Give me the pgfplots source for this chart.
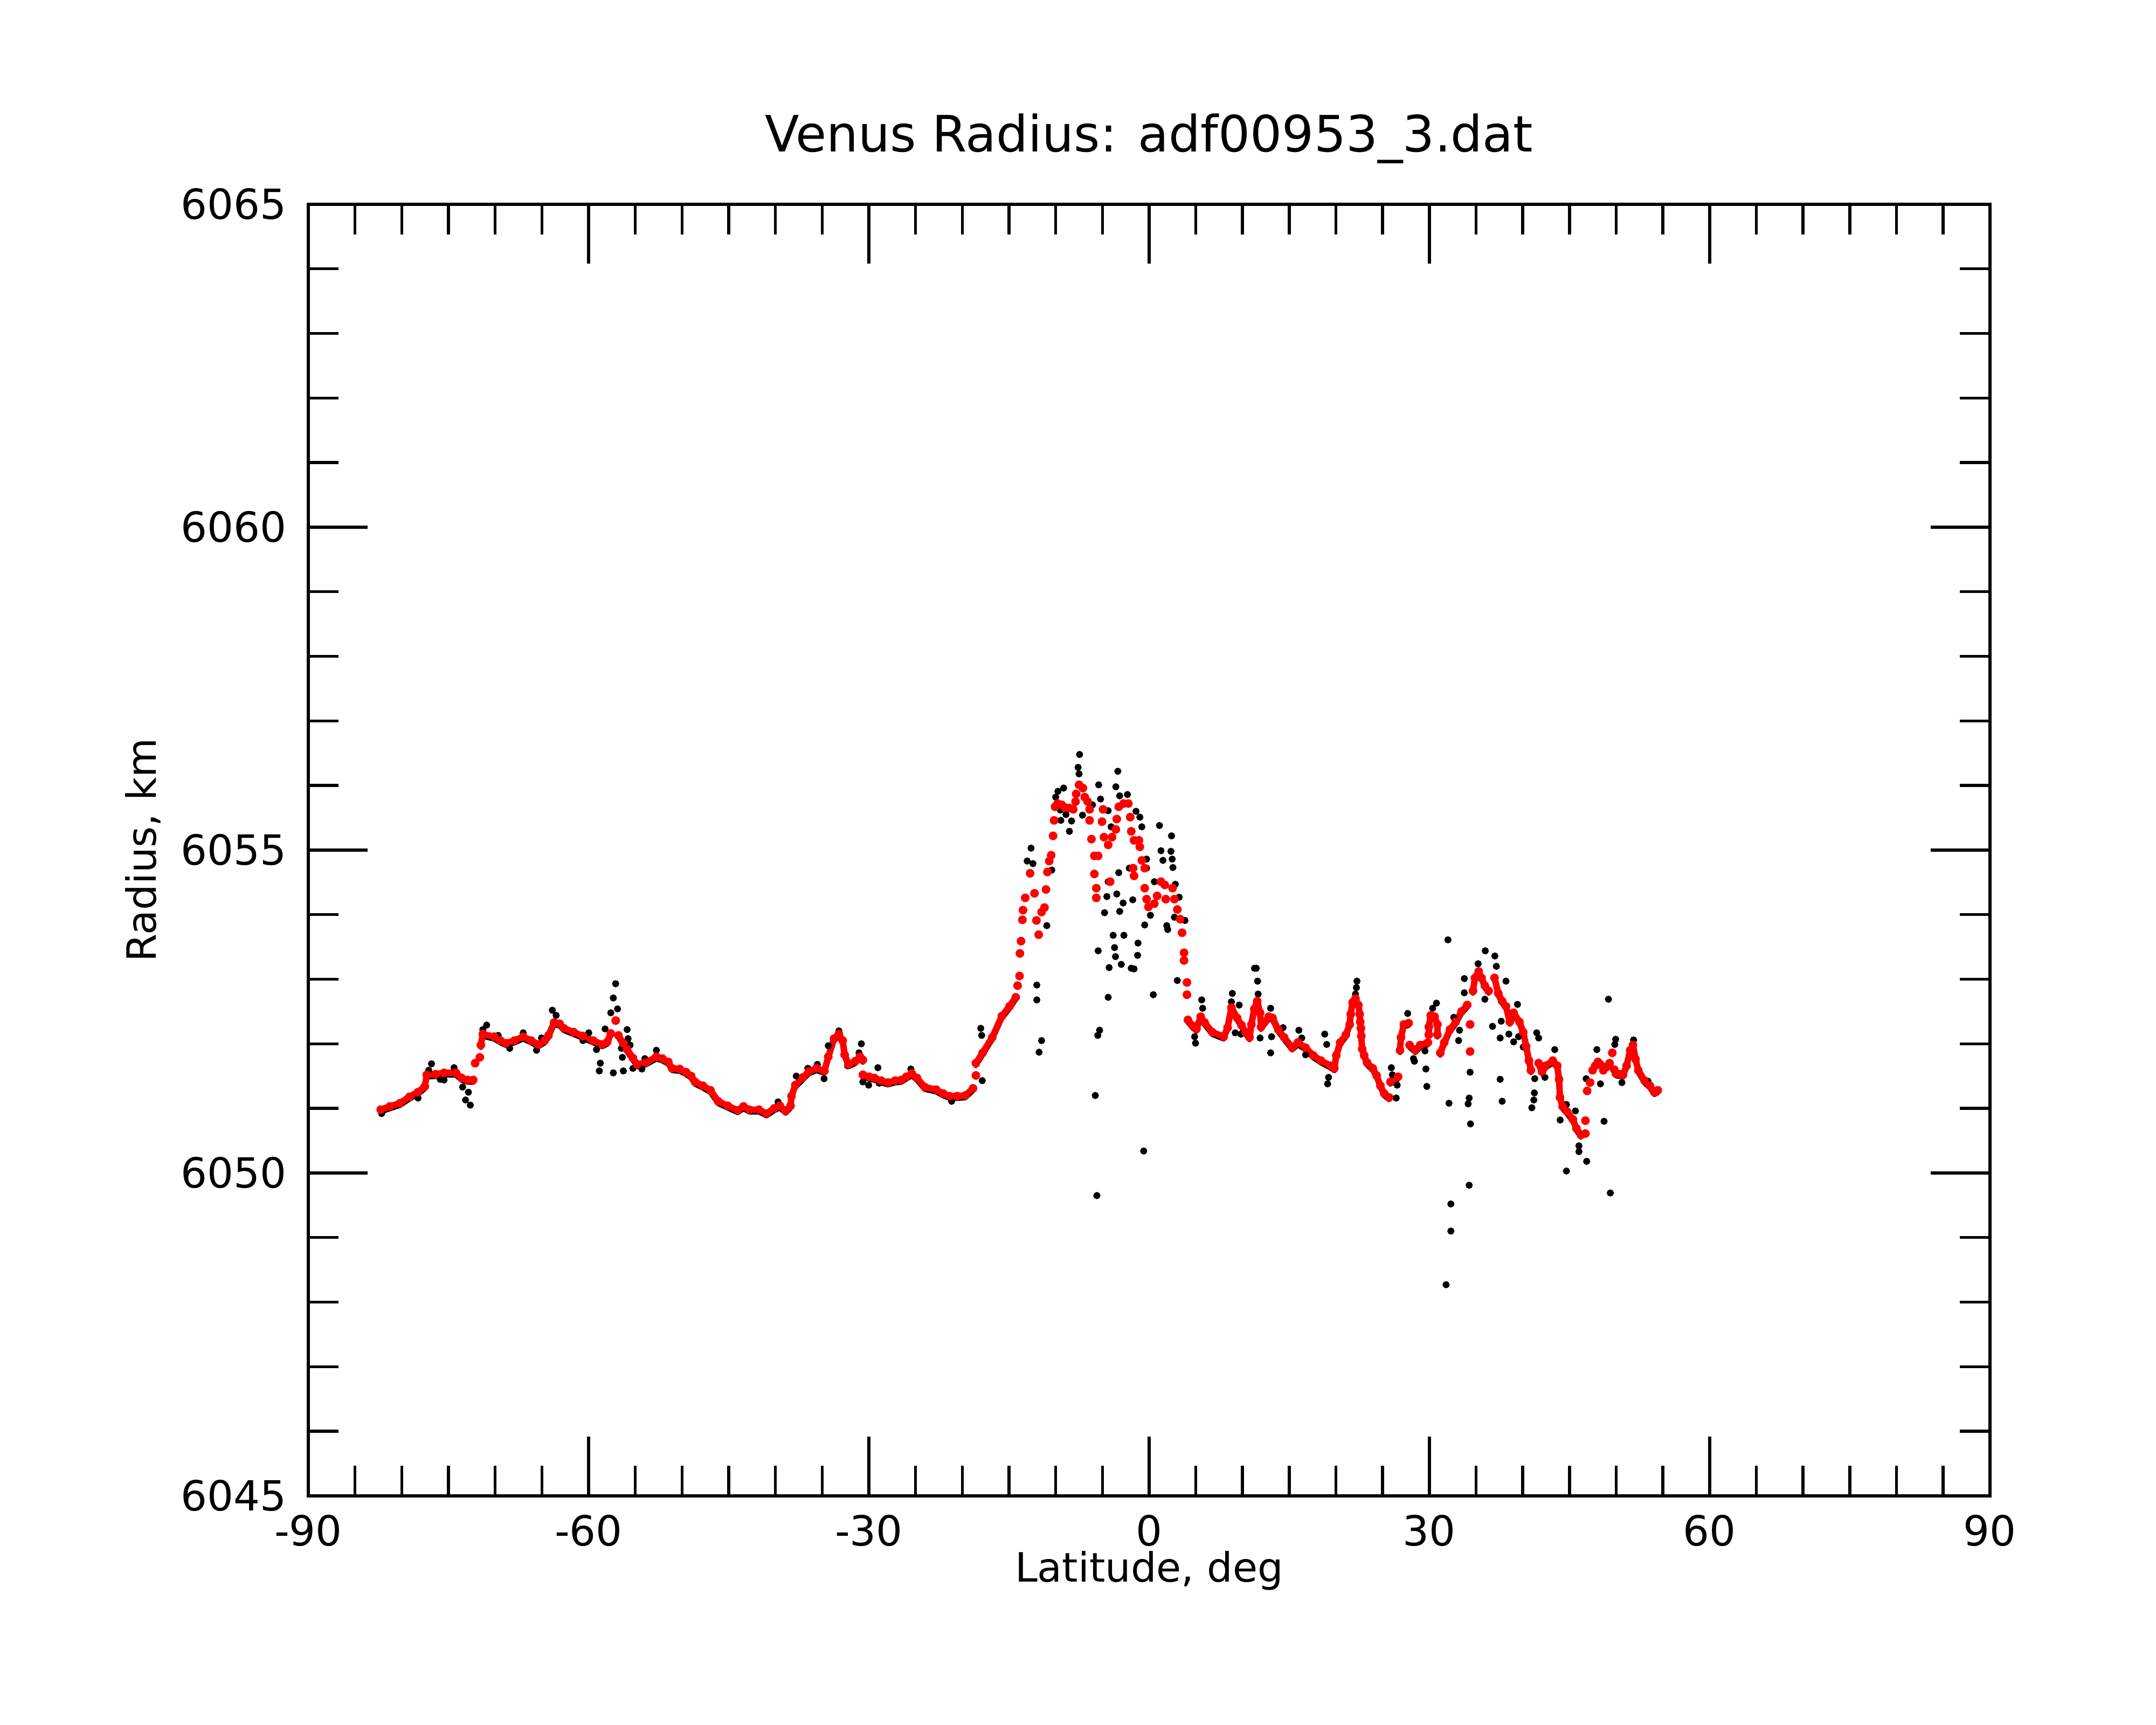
\documentclass[border=0pt]{standalone}
\usepackage{fontspec}
\setmainfont{DejaVu Sans}
\usepackage{pgfplots}
\usepackage{pgfplotstable}
\pgfplotsset{compat=1.18}

% continuous parts of the red (smoothed) trace; nan rows break the trace
\pgfplotstableread{
x y
-82.25 6050.98
-81.28 6051.03
-80.20 6051.08
-79.17 6051.18
-78.28 6051.25
-77.53 6051.34
-77.32 6051.52
-76.38 6051.53
-75.47 6051.55
-74.20 6051.55
-73.58 6051.47
-72.94 6051.44
-72.35 6051.44
nan nan
-71.53 6051.98
-71.32 6052.15
-70.09 6052.11
-69.44 6052.05
-68.85 6052.01
-67.94 6052.05
-67.00 6052.11
-66.14 6052.05
-65.36 6051.99
-64.70 6052.05
-64.29 6052.13
-63.68 6052.33
-63.10 6052.31
-62.65 6052.24
-61.60 6052.18
-60.60 6052.12
-59.50 6052.05
-58.54 6051.99
-58.00 6052.03
-57.62 6052.16
nan nan
-56.80 6052.13
-56.30 6052.01
-55.87 6051.91
-55.26 6051.78
-54.80 6051.68
-53.86 6051.71
-52.74 6051.80
-52.09 6051.77
-51.47 6051.72
-51.06 6051.62
-50.24 6051.61
-49.56 6051.56
-49.01 6051.50
-48.60 6051.41
-47.76 6051.35
-46.95 6051.28
-46.13 6051.11
-45.10 6051.04
-44.04 6050.97
-43.42 6051.03
-42.80 6050.98
-41.77 6050.98
-40.95 6050.92
-40.13 6051.00
-39.52 6051.04
-38.90 6050.96
-38.38 6051.04
-38.28 6051.19
-37.87 6051.36
-37.05 6051.48
-36.43 6051.57
-35.61 6051.62
-34.75 6051.58
-34.34 6051.80
-33.72 6052.08
-33.21 6052.15
-32.80 6052.05
-32.59 6051.83
-32.18 6051.68
-31.46 6051.73
-30.95 6051.80
-30.64 6051.75
nan nan
-30.64 6051.52
-29.98 6051.49
-29.40 6051.47
-28.68 6051.43
-27.97 6051.40
-27.18 6051.43
-26.53 6051.44
-25.98 6051.49
-25.40 6051.54
-24.84 6051.47
-24.02 6051.33
-22.79 6051.29
-22.04 6051.23
-21.35 6051.19
-20.54 6051.19
-19.67 6051.20
-18.85 6051.31
nan nan
-18.54 6051.70
-17.82 6051.86
-16.79 6052.10
-15.76 6052.43
-14.94 6052.58
-14.28 6052.72
nan nan
4.15 6052.37
4.66 6052.28
5.07 6052.23
5.52 6052.42
5.94 6052.33
6.76 6052.18
7.99 6052.11
8.40 6052.25
8.81 6052.56
9.43 6052.40
9.88 6052.29
10.34 6052.18
10.75 6052.10
10.95 6052.30
11.26 6052.54
11.57 6052.66
11.88 6052.48
11.98 6052.26
12.38 6052.34
12.80 6052.42
13.21 6052.40
13.83 6052.22
14.45 6052.10
15.31 6051.94
15.93 6052.02
16.75 6051.94
17.57 6051.82
18.39 6051.74
19.42 6051.66
19.83 6051.62
20.04 6051.82
20.45 6052.02
21.06 6052.14
21.47 6052.30
21.58 6052.46
21.78 6052.64
22.09 6052.70
22.40 6052.60
22.54 6052.46
22.60 6052.34
22.67 6052.24
22.71 6052.12
22.81 6051.92
23.02 6051.82
23.32 6051.71
23.94 6051.62
24.35 6051.51
24.76 6051.35
25.17 6051.23
25.69 6051.17
nan nan
25.83 6051.41
26.65 6051.49
nan nan
26.86 6051.90
26.96 6052.10
27.27 6052.30
27.78 6052.32
nan nan
27.88 6051.98
28.50 6051.90
29.02 6051.98
29.84 6052.02
nan nan
29.94 6052.14
29.94 6052.26
30.15 6052.44
30.56 6052.42
30.86 6052.30
30.86 6052.14
nan nan
31.17 6051.86
31.59 6052.02
32.20 6052.22
32.82 6052.34
33.44 6052.50
34.05 6052.60
nan nan
34.67 6052.82
34.88 6053.02
35.28 6053.12
35.59 6053.02
35.94 6052.90
36.35 6052.82
nan nan
36.97 6053.02
37.38 6052.78
37.79 6052.66
38.20 6052.58
38.61 6052.34
nan nan
39.02 6052.48
39.64 6052.34
40.05 6052.18
40.36 6051.96
40.66 6051.74
40.87 6051.59
nan nan
41.69 6051.70
42.06 6051.57
42.44 6051.66
43.21 6051.74
43.69 6051.66
43.88 6051.45
43.98 6051.17
44.26 6051.03
44.74 6050.95
45.36 6050.83
45.74 6050.69
46.22 6050.59
nan nan
49.96 6051.54
50.40 6051.53
50.73 6051.52
51.11 6051.66
51.50 6051.90
51.79 6051.98
52.07 6051.76
52.36 6051.59
53.03 6051.43
53.61 6051.35
54.09 6051.25
54.45 6051.28
}\redline

% scattered red points (steep rise, summit region, isolated values)
\pgfplotstableread{
x y
-72.14 6051.70
-71.64 6051.79
-57.10 6052.36
-18.54 6051.51
-14.08 6052.90
-13.87 6053.05
-13.83 6053.40
-13.71 6053.59
-13.56 6053.92
-13.50 6054.07
-13.26 6054.26
-12.74 6054.64
-12.27 6054.33
-12.06 6053.91
-11.82 6053.69
-11.51 6054.04
-11.20 6054.11
-11.04 6054.39
-10.89 6054.66
-10.69 6054.83
-10.48 6054.92
-10.28 6055.22
-10.17 6055.46
-10.07 6055.67
-9.80 6055.72
-9.35 6055.70
-9.00 6055.66
-8.53 6055.65
-8.12 6055.63
-7.87 6055.75
-7.81 6055.87
-7.50 6056.01
-7.09 6055.96
-6.89 6055.82
-6.58 6055.75
-6.37 6055.63
-6.37 6055.46
-6.17 6055.17
-5.86 6054.91
-5.86 6054.63
-5.65 6054.41
-5.65 6054.26
-5.45 6054.91
-5.04 6055.44
-4.93 6055.63
-4.83 6055.20
-4.38 6055.08
-4.17 6054.51
-3.97 6055.20
-3.56 6055.32
-3.46 6055.48
-3.25 6055.67
-2.74 6055.72
-2.22 6055.72
-2.02 6055.51
-1.91 6055.29
-1.61 6055.15
-1.09 6055.15
-0.99 6055.05
-0.78 6054.84
-0.47 6054.72
-1.71 6054.72
-1.61 6054.60
-0.47 6054.41
-0.27 6054.24
-0.07 6054.12
0.56 6054.17
0.86 6054.29
1.27 6054.51
1.68 6054.46
1.78 6054.24
2.51 6054.41
2.71 6054.24
3.02 6054.08
3.33 6053.93
3.53 6053.72
3.74 6053.41
3.74 6053.29
4.05 6052.95
4.05 6052.76
34.36 6052.30
34.36 6051.88
46.70 6050.81
46.70 6050.61
46.89 6051.27
47.20 6051.40
47.47 6051.59
47.75 6051.66
48.04 6051.72
48.30 6051.68
48.62 6051.59
48.95 6051.64
49.29 6051.70
49.58 6051.86
49.80 6051.60
}\redpts

% raw (black) points that stand apart from the red trace
\pgfplotstableread{
x y
-82.15 6050.92
-81.23 6051.01
-78.25 6051.16
-76.81 6051.69
-77.11 6051.59
-75.88 6051.45
-75.47 6051.44
-74.40 6051.63
-73.48 6051.33
-72.86 6051.25
-73.17 6051.13
-72.66 6051.05
-70.91 6052.29
-71.32 6052.22
-69.68 6052.13
-68.44 6051.93
-67.00 6052.17
-65.57 6051.90
-65.04 6052.09
-63.88 6052.52
-63.47 6052.44
-59.98 6052.17
-60.60 6052.05
-59.15 6051.91
-58.74 6051.70
-58.85 6051.58
-57.10 6052.93
-57.35 6052.71
-56.90 6052.54
-57.62 6052.48
-58.23 6052.23
-57.35 6051.55
-56.28 6051.58
-55.87 6052.22
-55.77 6052.08
-55.56 6051.98
-56.48 6051.93
-56.38 6051.79
-55.25 6051.62
-54.29 6051.61
-53.98 6051.77
-52.74 6051.90
-39.72 6051.10
-37.77 6051.50
-36.53 6051.62
-35.51 6051.68
-34.79 6051.46
-34.34 6051.97
-33.21 6052.20
-32.28 6051.66
-30.80 6052.00
-31.05 6051.86
-30.64 6051.41
-30.02 6051.36
-29.03 6051.63
-28.89 6051.39
-25.50 6051.61
-21.14 6051.11
-18.02 6052.24
-17.92 6052.13
-17.86 6051.43
-12.64 6055.03
-13.05 6054.83
-12.43 6054.79
-12.02 6052.91
-12.02 6052.68
-11.51 6052.05
-11.78 6051.87
-10.95 6053.83
-10.42 6054.69
-9.76 6055.91
-9.15 6055.96
-9.45 6055.46
-8.53 6055.29
-10.00 6055.82
-9.50 6055.62
-8.90 6055.55
-8.30 6055.45
-7.44 6056.48
-7.60 6056.28
-7.50 6056.18
-7.13 6055.54
-6.06 6055.70
-5.40 6056.01
-5.20 6055.79
-4.38 6055.61
-4.07 6055.36
-5.45 6053.44
-5.30 6052.21
-5.49 6052.13
-5.76 6051.20
-5.59 6049.65
-4.38 6054.51
-4.52 6054.28
-4.77 6054.03
-3.46 6054.32
-2.78 6054.18
-3.15 6054.05
-3.85 6053.68
-2.70 6053.68
-3.70 6053.49
-3.60 6053.35
-2.98 6053.23
-4.28 6053.18
-4.38 6052.72
-3.35 6056.22
-3.56 6055.98
-3.15 6055.84
-2.32 6055.86
-1.40 6055.60
-0.99 6055.51
-0.78 6055.36
-3.25 6054.65
-2.12 6054.72
-1.75 6054.23
-1.19 6053.56
-1.23 6053.37
-1.91 6053.17
-1.61 6053.16
-0.47 6053.84
-0.27 6054.86
-0.27 6054.72
0.45 6052.76
-0.58 6050.34
0.56 6054.51
0.14 6053.99
1.11 6055.38
2.40 6055.22
1.27 6054.99
1.48 6054.84
2.34 6054.98
2.47 6054.86
2.55 6054.73
2.81 6054.47
1.89 6053.83
1.99 6053.77
2.71 6053.96
3.22 6054.27
3.84 6053.91
3.02 6052.98
4.87 6052.11
4.97 6052.01
5.63 6052.68
5.73 6052.55
8.91 6052.78
8.81 6052.65
9.64 6052.60
9.22 6052.17
9.83 6052.15
11.28 6053.17
11.47 6053.17
11.61 6052.97
11.67 6052.77
13.01 6052.55
13.11 6052.11
13.01 6051.86
11.88 6052.09
14.34 6052.25
16.03 6052.21
16.34 6052.09
16.75 6051.83
18.80 6052.15
19.01 6051.99
19.21 6051.48
19.11 6051.38
22.25 6052.97
22.19 6052.87
22.09 6052.77
25.93 6051.63
26.04 6051.52
26.55 6051.36
26.45 6051.16
27.68 6052.47
28.30 6051.77
28.40 6051.73
29.53 6051.89
29.63 6051.61
29.73 6051.34
30.35 6052.55
30.76 6052.63
31.99 6053.61
32.10 6051.08
32.30 6049.52
32.30 6049.10
31.79 6048.27
32.61 6052.41
33.23 6052.21
33.13 6052.05
33.74 6053.01
33.74 6052.79
34.36 6051.56
34.26 6051.16
34.15 6051.07
34.40 6050.76
34.26 6049.81
35.22 6053.24
35.98 6053.44
37.01 6053.36
37.17 6053.20
35.94 6052.69
36.76 6052.27
37.58 6052.09
37.69 6052.35
37.58 6051.45
37.79 6051.11
38.20 6052.97
39.43 6052.61
38.51 6052.15
39.54 6052.11
39.02 6052.03
40.05 6051.95
41.49 6052.17
41.28 6051.46
41.24 6051.24
41.18 6051.13
40.97 6051.01
41.70 6052.09
43.42 6051.91
42.37 6051.48
44.00 6050.82
44.67 6051.06
45.63 6050.96
46.01 6050.42
46.01 6050.33
46.84 6050.18
44.67 6050.03
48.70 6050.80
49.37 6049.69
49.17 6052.69
47.93 6051.91
49.94 6052.07
49.85 6051.99
48.31 6051.38
50.61 6051.40
51.86 6052.06
53.40 6051.42
46.78 6051.46
}\blackpts

\begin{document}
\begin{tikzpicture}
\path[use as bounding box] (-57.2pt,-42.5pt) rectangle (342.8pt,277.5pt);
\begin{axis}[
  scale only axis,
  width=312pt, height=239.6pt,
  xmin=-90, xmax=90, ymin=6045, ymax=6065,
  xtick={-90,-60,-30,0,30,60,90},
  xticklabels={-90,-60,-30,0,30,60,90},
  ytick={6045,6050,6055,6060,6065},
  yticklabels={6045,6050,6055,6060,6065},
  minor x tick num=5, minor y tick num=4,
  tick align=inside,
  major tick length=11pt, minor tick length=5.6pt,
  axis line style={line width=0.55pt},
  major tick style={black, line width=0.55pt},
  minor tick style={black, line width=0.55pt},
  tick label style={font=\fontsize{7.7}{9}\selectfont},
  yticklabel style={xshift=-0.5pt},
  every axis title shift=0pt,
  title={Venus Radius: adf00953\_3.dat},
  title style={at={(axis description cs:0.5,1.0405)}, anchor=base,
    font=\fontsize{9.3}{11}\selectfont},
  xlabel={Latitude, deg},
  xlabel style={at={(axis description cs:0.5,-0.0664)}, anchor=base,
    font=\fontsize{7.5}{9}\selectfont},
  ylabel={Radius, km},
  ylabel style={at={(axis description cs:-0.0904,0.5)}, anchor=base,
    font=\fontsize{7.5}{9}\selectfont},
  unbounded coords=jump,
]
\addplot[black, no markers, line width=0.9pt, yshift=-0.45pt, line join=round, line cap=round] table {\redline};
\addplot[black, only marks, mark=*, mark size=0.45pt, mark options={draw=none, fill=black}] table {\blackpts};
\addplot[red, no markers, line width=1.2pt, line join=round, line cap=round] table {\redline};
\addplot[red, only marks, mark=*, mark size=0.6pt, mark options={draw=none, fill=red}] table {\redline};
\addplot[red, only marks, mark=*, mark size=0.6pt, mark options={draw=none, fill=red}] table {\redpts};
\end{axis}
\end{tikzpicture}
\end{document}
